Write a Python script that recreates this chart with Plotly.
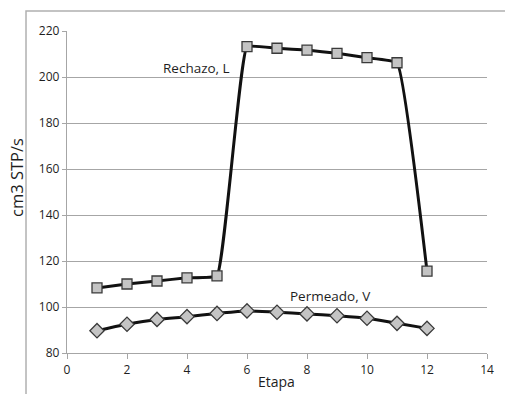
import plotly.graph_objects as go

# Flow per stage
etapa = [1, 2, 3, 4, 5, 6, 7, 8, 9, 10, 11, 12]
rechazo_L = [108.3, 110.0, 111.3, 112.7, 113.5, 213.2, 212.5, 211.7, 210.3, 208.4, 206.2, 115.6]
permeado_V = [89.7, 92.5, 94.6, 95.8, 97.2, 98.3, 97.7, 97.0, 96.2, 95.1, 92.9, 90.7]

FONT = "Open Sans"
GRID = "#a6a6a6"
TXT = "#1e1e1e"

fig = go.Figure()

fig.add_trace(go.Scatter(
    x=etapa, y=rechazo_L, mode="lines+markers", name="Rechazo, L",
    line=dict(color="#111111", width=3, shape="spline", smoothing=0.3),
    marker=dict(symbol="square", size=10, color="#c4c4c4",
                line=dict(color="#3a3a3a", width=1.3)),
    cliponaxis=False,
))
fig.add_trace(go.Scatter(
    x=etapa, y=permeado_V, mode="lines+markers", name="Permeado, V",
    line=dict(color="#111111", width=3, shape="spline", smoothing=0.8),
    marker=dict(symbol="diamond", size=11, color="#c4c4c4",
                line=dict(color="#3a3a3a", width=1.3)),
    cliponaxis=False,
))

fig.update_layout(
    width=505, height=394,
    margin=dict(l=67, r=18, t=31, b=41),
    paper_bgcolor="white", plot_bgcolor="white",
    showlegend=False,
    font=dict(family=FONT, size=12, color=TXT),
    xaxis=dict(
        range=[0, 14], dtick=2, tick0=0,
        showgrid=False, zeroline=False,
        showline=True, linecolor=GRID, linewidth=1.3,
        ticks="outside", ticklen=5, tickcolor=GRID, tickwidth=1.3,
        tickfont=dict(family=FONT, size=12, color=TXT),
    ),
    yaxis=dict(
        range=[80, 220], dtick=20, tick0=80,
        showgrid=True, gridcolor=GRID, gridwidth=1.3,
        zeroline=False,
        showline=True, linecolor=GRID, linewidth=1.3,
        ticks="outside", ticklen=4, tickcolor=GRID, tickwidth=1.3,
        tickfont=dict(family=FONT, size=12, color=TXT),
    ),
    shapes=[
        # outer chart frame
        dict(type="rect", xref="paper", yref="paper",
             x0=-0.0976, x1=1.2, y0=-0.3, y1=1.062,
             line=dict(color="#b0b0b0", width=1.5), fillcolor="rgba(0,0,0,0)",
             layer="below"),
    ],
    annotations=[
        dict(text="Rechazo, L", x=5.5, y=203.8, xref="x", yref="y",
             xanchor="right", yanchor="middle", showarrow=False,
             font=dict(family=FONT, size=13.5, color=TXT)),
        dict(text="Permeado, V", x=7.35, y=104.8, xref="x", yref="y",
             xanchor="left", yanchor="middle", showarrow=False,
             font=dict(family=FONT, size=13.5, color=TXT)),
        dict(text="cm3 STP/s", x=(16 - 67) / 420, y=(353 - 178) / 322,
             xref="paper", yref="paper", xanchor="center", yanchor="middle",
             showarrow=False, textangle=-90,
             font=dict(family=FONT, size=16.5, color=TXT)),
        dict(text="Etapa", x=6.97, y=-0.09, xref="x", yref="paper",
             xanchor="center", yanchor="middle", showarrow=False,
             font=dict(family=FONT, size=14, color=TXT)),
    ],
)

fig.write_html("out.html")
